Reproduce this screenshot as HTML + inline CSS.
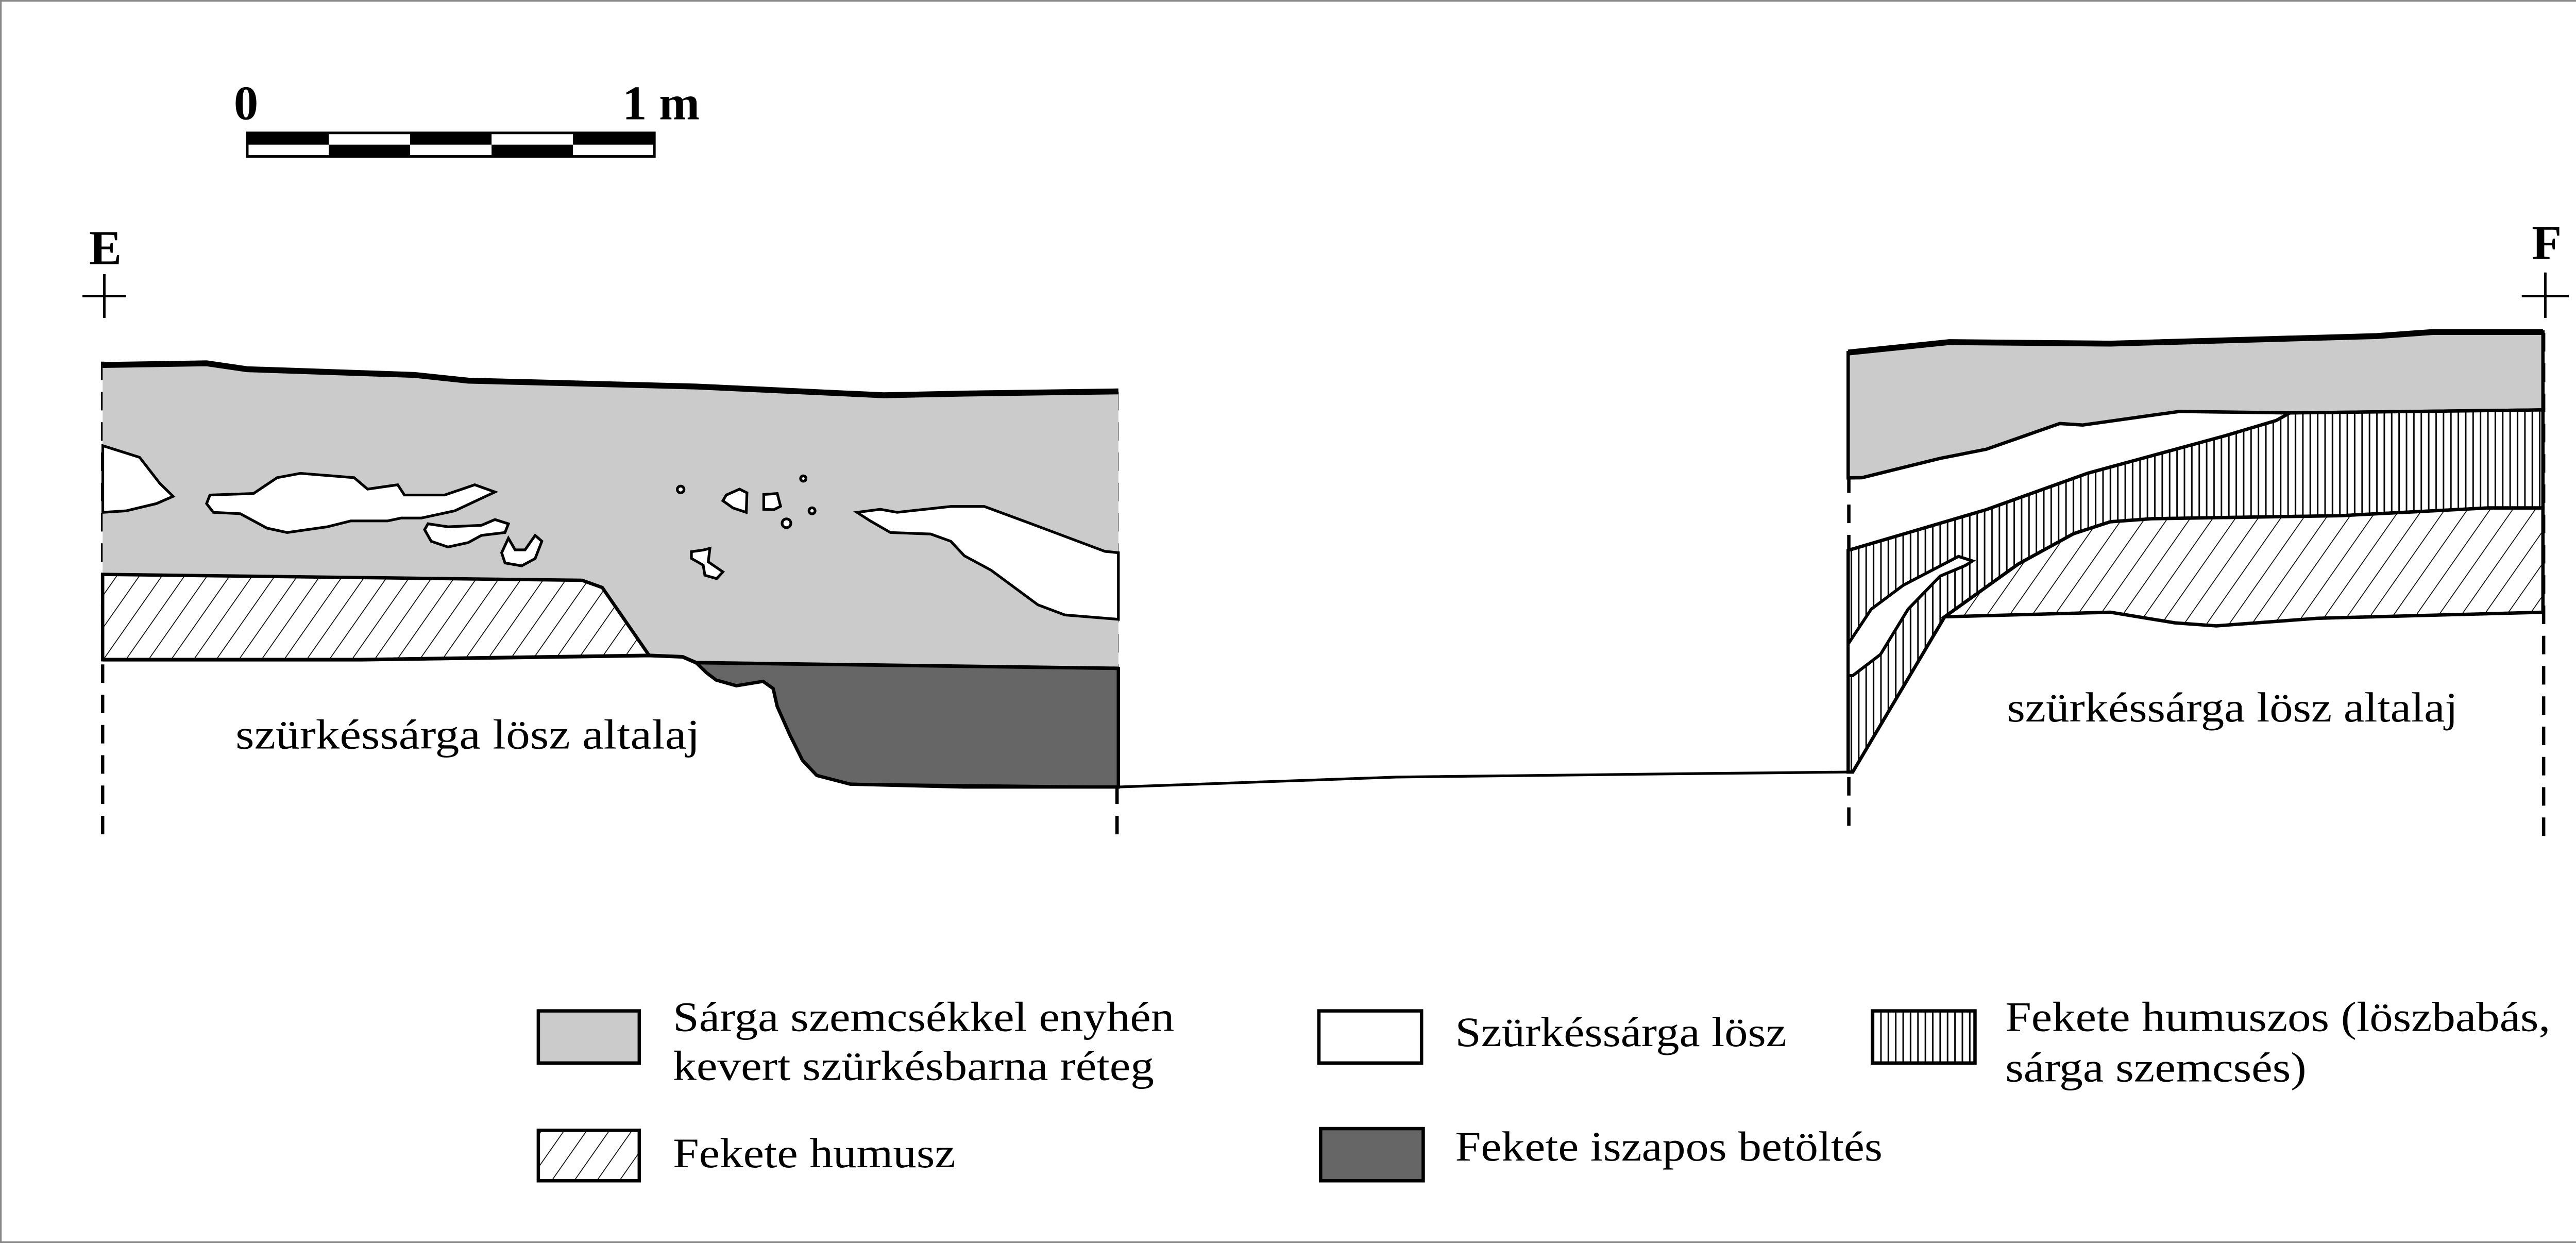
<!DOCTYPE html>
<html><head><meta charset="utf-8"><style>
html,body{margin:0;padding:0;background:#fff;}
svg{display:block;}
text{font-family:"Liberation Serif",serif;fill:#000;}
</style></head><body>
<svg width="5120" height="2412" viewBox="0 0 1568 739" preserveAspectRatio="none" xmlns="http://www.w3.org/2000/svg">
<defs>
<pattern id="diag" patternUnits="userSpaceOnUse" width="11" height="11" patternTransform="rotate(35)">
<rect width="11" height="11" fill="#fff"/><line x1="0" y1="0" x2="0" y2="11" stroke="#000" stroke-width="1"/>
</pattern>
<pattern id="vert" patternUnits="userSpaceOnUse" width="4.4" height="10">
<rect width="4.4" height="10" fill="#fff"/><line x1="0.5" y1="0" x2="0.5" y2="10" stroke="#000" stroke-width="0.9"/>
</pattern>
</defs>
<rect x="0.5" y="0.5" width="1567" height="738" fill="#fff" stroke="#888" stroke-width="1"/>

<!-- scale bar -->
<text x="139" y="71" font-size="29" font-weight="bold">0</text>
<text x="370" y="71" font-size="29" font-weight="bold">1 m</text>
<rect x="147" y="79" width="242" height="14" fill="#fff" stroke="#000" stroke-width="1.5"/>
<rect x="147" y="79" width="48.4" height="7" fill="#000"/>
<rect x="243.8" y="79" width="48.4" height="7" fill="#000"/>
<rect x="340.6" y="79" width="48.4" height="7" fill="#000"/>
<rect x="195.4" y="86" width="48.4" height="7" fill="#000"/>
<rect x="292.2" y="86" width="48.4" height="7" fill="#000"/>

<!-- E / F -->
<text x="53" y="157" font-size="29" font-weight="bold">E</text>
<path d="M49 176H75M62 163V189" stroke="#000" stroke-width="1.5"/>
<text x="1505" y="154" font-size="29" font-weight="bold">F</text>
<path d="M1499 176H1527M1513 162V189" stroke="#000" stroke-width="1.5"/>

<!-- dashed verticals -->
<g stroke="#000" stroke-width="2" stroke-dasharray="11,7">
<line x1="61" y1="215" x2="61" y2="497"/>
<line x1="664" y1="233" x2="664" y2="497"/>
<line x1="1099" y1="210" x2="1099" y2="497"/>
<line x1="1512" y1="198" x2="1512" y2="497"/>
</g>

<!-- LEFT SECTION -->
<path d="M61 217 L122.8 216 146.8 219.5 246.4 222.9 278.3 226.3 413.8 229.8 525.3 235 573.2 234 664.8 232.7 L664.8 397.4 413.8 394 405.8 390.5 385.9 389.7 358 349.3 346 345 61 341.5Z" fill="#cbcbcb"/>
<path d="M61 341.5 L346 345 358 349.3 385.9 389.7 214.5 392.2 61 392.2Z" fill="url(#diag)" stroke="#000" stroke-width="2"/>
<path d="M61 392.2 L214.5 392.2 385.9 389.7 405.8 390.5 413.8 394 664.8 397.4" fill="none" stroke="#000" stroke-width="2.2"/>
<path d="M413.8 394 L420 400 425.7 404.3 437.7 407.7 453.6 405.1 459.6 409.4 462 420 469.5 436.9 477 452 485.5 461 505.4 466.2 573.2 467.9 664.8 467.9 664.8 397.4Z" fill="#666" stroke="#000" stroke-width="2"/>
<path d="M61 217 L122.8 216 146.8 219.5 246.4 222.9 278.3 226.3 413.8 229.8 525.3 235 573.2 234 664.8 232.7" fill="none" stroke="#000" stroke-width="3.5"/>
<!-- white blobs -->
<g fill="#fff" stroke="#000" stroke-width="1.6">
<path d="M61.1 265 L83 271.9 95 287.4 102.9 295.1 93 299.4 75 303.7 61.1 304.6Z"/>
<path d="M124.8 294.3 L150.7 293.4 164.7 284 178.6 281.4 210.5 284 218.5 290.8 236.4 288.2 240.4 294.3 264.3 294.3 282.2 288.2 294.2 292.5 270.3 303.7 250.4 308 238.4 308 230.4 309.7 208.5 309.7 194.6 313.2 170.7 316.6 158.7 314 142.8 305.4 126.8 304.6 122.8 299.4Z"/>
<path d="M254.4 311.4 L266.3 313.2 286.2 312.3 294.2 308.9 302.2 311.4 300.2 316.6 286.2 318.3 278.3 322.6 266.3 325.2 256.3 321.8 252.4 314.9Z"/>
<path d="M302.2 320 L306.2 326.9 312.1 326.9 318.1 318.3 322.1 321.8 318.1 332.1 310.1 336.4 300.2 334.7 298.2 328.6Z"/>
<circle cx="404.6" cy="291" r="2"/>
<circle cx="477.5" cy="284.5" r="1.6"/>
<circle cx="482.7" cy="303.7" r="1.8"/>
<circle cx="467.5" cy="311.1" r="2.6"/>
<path d="M431.7 294.3 L439.6 290.8 444 293 443.6 304.6 435.7 302 429.7 297.7Z"/>
<path d="M454 294 L462 293.4 464 301 460 303 454 302.8Z"/>
<path d="M418 327 L422 326 421 334 429.7 340 426 344 419 342 418 336 411 332 411 328Z"/>
<path d="M509.4 304.6 L523.3 302.8 533.3 304.6 565.2 301.1 585.1 301.1 613 311.4 656.8 327.8 664.8 328.6 664.8 368.2 633 365.6 617 359.6 589.1 339 573.2 330.4 565.2 321.8 553.2 317.5 529.3 316.6 517.3 309.7Z"/>
</g>
<text x="140" y="445" font-size="25" textLength="276" lengthAdjust="spacingAndGlyphs">szürkéssárga lösz altalaj</text>

<!-- ground line -->
<path d="M505.4 466.2 L664.8 467.9 830 462 1000 460 1098.6 459" fill="none" stroke="#000" stroke-width="1.6"/>

<!-- RIGHT SECTION -->
<path d="M1098.6 209.6 L1158.8 203.4 1254.5 204.3 1413 199.8 1446 197.4 1511.6 197.4 1511.6 243.7 1361.2 245.5 1295.5 244.6 1238 252.7 1224.4 251.8 1180.7 267.1 1153.3 272.5 1106.8 284 1098.6 284.1Z" fill="#cbcbcb" stroke="#000" stroke-width="2"/>
<path d="M1098.6 209.6 L1158.8 203.4 1254.5 204.3 1413 199.8 1446 197.4 1511.6 197.4" fill="none" stroke="#000" stroke-width="3.5"/>
<path d="M1098.6 327.2 L1180.7 303 1240.8 281.4 1322.9 259 1353 250 1361.2 245.5 1511.6 243.7 1511.6 302 1478.8 302 1391.2 306.6 1279 308.4 1254.5 310.2 1232.6 317.3 1199.8 335.3 1156 366.7 1101.3 459 1098.6 459Z" fill="url(#vert)" stroke="#000" stroke-width="2"/>
<path d="M1156 366.7 L1199.8 335.3 1232.6 317.3 1254.5 310.2 1279 308.4 1391.2 306.6 1478.8 302 1511.6 302 1511.6 364 1377.6 367.6 1317.4 372.1 1292.8 370.3 1254.5 364Z" fill="url(#diag)" stroke="#000" stroke-width="2"/>
<path d="M1098.6 382.9 L1112.3 362.2 1131.4 347.9 1164.2 330.8 1172.5 333.5 1168.3 336.2 1153.3 342.5 1134.2 362.2 1117.8 389.1 1101.3 401.7 1098.6 401.7Z" fill="#fff" stroke="#000" stroke-width="1.8"/>
<text x="1193" y="429" font-size="25" textLength="268" lengthAdjust="spacingAndGlyphs">szürkéssárga lösz altalaj</text>

<!-- LEGEND -->
<g stroke="#000" stroke-width="2">
<rect x="320" y="601" width="60" height="31" fill="#cbcbcb"/>
<rect x="320" y="672" width="60" height="30" fill="url(#diag)"/>
<rect x="784" y="601" width="61" height="31" fill="#fff"/>
<rect x="785" y="671" width="61" height="31" fill="#666"/>
<rect x="1113" y="601" width="61" height="31" fill="url(#vert)"/>
</g>
<text x="400" y="613" font-size="25" textLength="298" lengthAdjust="spacingAndGlyphs">Sárga szemcsékkel enyhén</text>
<text x="400" y="642" font-size="25" textLength="286" lengthAdjust="spacingAndGlyphs">kevert szürkésbarna réteg</text>
<text x="400" y="694" font-size="25" textLength="168" lengthAdjust="spacingAndGlyphs">Fekete humusz</text>
<text x="865" y="622" font-size="25" textLength="197" lengthAdjust="spacingAndGlyphs">Szürkéssárga lösz</text>
<text x="865" y="690" font-size="25" textLength="254" lengthAdjust="spacingAndGlyphs">Fekete iszapos betöltés</text>
<text x="1192" y="613" font-size="25" textLength="324" lengthAdjust="spacingAndGlyphs">Fekete humuszos (löszbabás,</text>
<text x="1192" y="643" font-size="25" textLength="179" lengthAdjust="spacingAndGlyphs">sárga szemcsés)</text>
</svg>
</body></html>
